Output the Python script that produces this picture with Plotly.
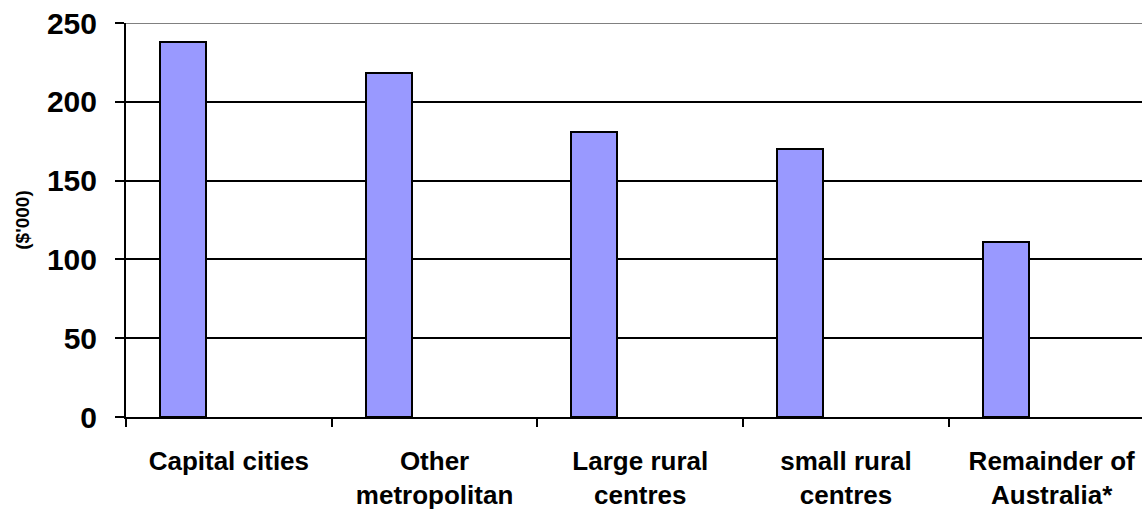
import plotly.graph_objects as go

# Category labels (line breaks as shown on the axis)
regions = [
    "Capital cities",
    "Other<br>metropolitan",
    "Large rural<br>centres",
    "small rural<br>centres",
    "Remainder of<br>Australia*",
]
# Values in $'000
values = [238, 218, 181, 170, 111]

FONT = "Liberation Sans, Arial, sans-serif"

fig = go.Figure()
fig.add_trace(
    go.Bar(
        x=regions,
        y=values,
        width=0.2236,
        offset=-0.3347,
        marker=dict(color="#9999FF", line=dict(color="#000000", width=2)),
        hoverinfo="x+y",
    )
)

# grey frame line along the top of the plot area
fig.add_shape(
    type="line", xref="paper", yref="y", x0=0, x1=1, y0=250, y1=250,
    line=dict(color="#808080", width=2), layer="above",
)

fig.update_layout(
    width=1142,
    height=509,
    margin=dict(l=126, r=0, t=23, b=92),
    paper_bgcolor="white",
    plot_bgcolor="white",
    showlegend=False,
    bargap=0,
    font=dict(family=FONT, color="#000000"),
)

fig.update_xaxes(
    type="category",
    range=[-0.5, 4.439],
    tickson="boundaries",
    ticks="outside",
    ticklen=8,
    tickwidth=2,
    tickcolor="#000000",
    showline=True,
    linecolor="#000000",
    linewidth=2,
    showgrid=False,
    tickfont=dict(family=FONT, size=26, color="#000000", weight="bold"),
    ticklabelstandoff=20,
    automargin=False,
    fixedrange=True,
)

fig.update_yaxes(
    range=[0, 250],
    tickvals=[0, 50, 100, 150, 200, 250],
    ticks="outside",
    ticklen=9,
    tickwidth=2,
    tickcolor="#000000",
    showline=True,
    linecolor="#000000",
    linewidth=2,
    showgrid=True,
    gridcolor="#000000",
    gridwidth=2,
    zeroline=False,
    tickfont=dict(family=FONT, size=30, color="#000000", weight="bold"),
    ticklabelstandoff=12,
    title=dict(
        text="($'000)",
        font=dict(family=FONT, size=19, color="#000000", weight="bold"),
        standoff=12,
    ),
    automargin=False,
    fixedrange=True,
)

fig.write_html("out.html")
